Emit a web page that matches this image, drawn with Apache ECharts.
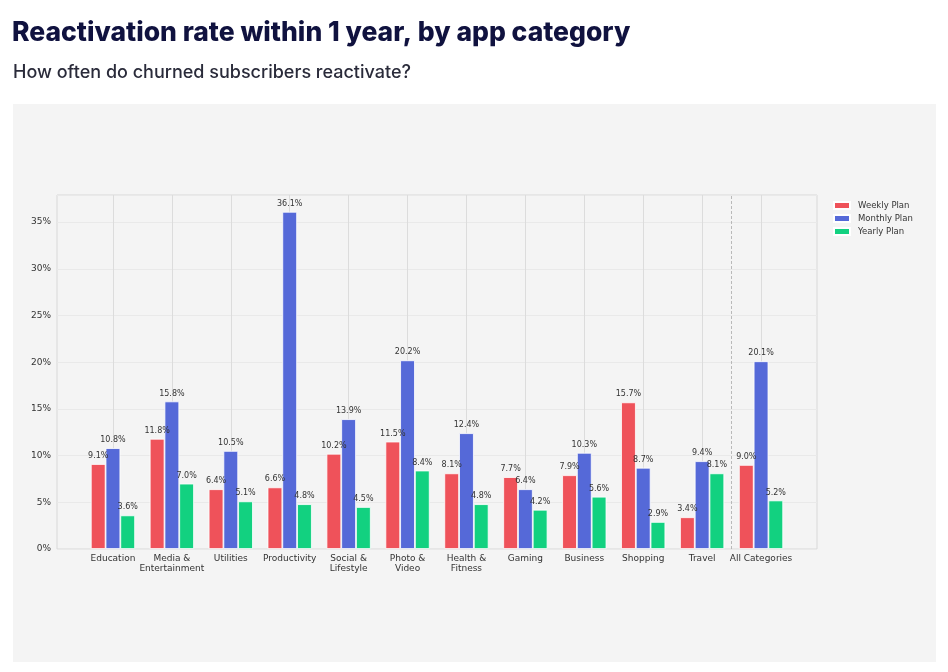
<!DOCTYPE html>
<html lang="en">
<head>
    <meta charset="UTF-8">
    <title>Reactivation rate</title>
    <script type="text/javascript" src="https://cdn.jsdelivr.net/npm/echarts@6/dist/echarts.min.js"></script>
    <style>
        html, body { margin: 0; padding: 0; background: #ffffff; }
        #main { width: 948px; height: 672px; }
    </style>
</head>
<body>
<div id="main"></div>
<script type="text/javascript">
    var categories = ['Education', 'Media &\nEntertainment', 'Utilities', 'Productivity', 'Social &\nLifestyle',
        'Photo &\nVideo', 'Health &\nFitness', 'Gaming', 'Business', 'Shopping', 'Travel', 'All Categories'];
    var weekly = [9.1, 11.8, 6.4, 6.6, 10.2, 11.5, 8.1, 7.7, 7.9, 15.7, 3.4, 9.0];
    var monthly = [10.8, 15.8, 10.5, 36.1, 13.9, 20.2, 12.4, 6.4, 10.3, 8.7, 9.4, 20.1];
    var yearly = [3.6, 7.0, 5.1, 4.8, 4.5, 8.4, 4.8, 4.2, 5.6, 2.9, 8.1, 5.2];
    var seriesNames = ['Weekly Plan', 'Monthly Plan', 'Yearly Plan'];
    var colors = ['#ef525a', '#5569d8', '#12d180'];
    var yMax = 37.9;

    var mychart = echarts.init(document.getElementById('main'));

    function barSeries(name, data, color) {
        return {
            name: name,
            type: 'bar',
            xAxisIndex: 1,
            yAxisIndex: 1,
            data: data,
            barWidth: 14.75,
            barGap: '0%',
            itemStyle: { color: color, borderColor: '#ffffff', borderWidth: 0.8 },
            label: {
                show: true,
                position: 'top',
                distance: 4,
                fontSize: 8,
                color: '#333333',
                fontFamily: 'DejaVu Sans',
                formatter: function (p) { return p.value.toFixed(1) + '%'; }
            }
        };
    }

    var option = {
        backgroundColor: '#ffffff',
        animation: false,
        title: [{
            text: 'Reactivation rate within 1 year, by app category',
            left: 12,
            top: 20,
            padding: 0,
            textStyle: { fontFamily: 'Inter', fontWeight: 800, fontSize: 26.5, color: '#10123f' }
        }, {
            text: 'How often do churned subscribers reactivate?',
            left: 13,
            top: 64,
            padding: 0,
            textStyle: { fontFamily: 'Inter', fontWeight: 500, fontSize: 18, color: '#2a2b3a' }
        }],
        graphic: [{
            type: 'rect',
            z: -10,
            shape: { x: 13, y: 104, width: 923, height: 558 },
            style: { fill: '#f4f4f4' }
        }],
        legend: {
            orient: 'vertical',
            left: 833,
            top: 201,
            padding: 0,
            itemWidth: 16,
            itemHeight: 7,
            itemGap: 4,
            icon: 'rect',
            data: seriesNames,
            textStyle: { fontSize: 8.5, color: '#333333', fontFamily: 'DejaVu Sans', padding: [0, 0, 0, 3] }
        },
        grid: [
            { left: 57, right: 131, top: 195, bottom: 123, show: true, borderColor: '#d8d8d8', borderWidth: 1, backgroundColor: 'transparent' },
            { left: 83.5, right: 157.5, top: 195, bottom: 123 },
            { left: 113, right: 187, top: 195, bottom: 123 }
        ],
        xAxis: [
            { gridIndex: 0, type: 'value', min: 0, max: 1, show: false },
            {
                gridIndex: 1, type: 'category', data: categories,
                axisLine: { show: false }, axisTick: { show: false }, splitLine: { show: false },
                axisLabel: { fontSize: 9, color: '#333333', fontFamily: 'DejaVu Sans', margin: 5, lineHeight: 10, interval: 0 }
            },
            {
                gridIndex: 2, type: 'value', min: 0, max: 11, interval: 1,
                axisLine: { show: false }, axisTick: { show: false }, axisLabel: { show: false },
                splitLine: { show: true, lineStyle: { color: '#dcdcdc', width: 1 } }
            }
        ],
        yAxis: [
            {
                gridIndex: 0, type: 'value', min: 0, max: yMax, interval: 5,
                axisLine: { show: false }, axisTick: { show: false },
                axisLabel: { fontSize: 9, color: '#333333', fontFamily: 'DejaVu Sans', margin: 6, formatter: '{value}%', showMaxLabel: false },
                splitLine: { show: true, lineStyle: { color: '#e9e9e9', width: 1 } }
            },
            { gridIndex: 1, type: 'value', min: 0, max: yMax, show: false },
            { gridIndex: 2, type: 'value', min: 0, max: 1, show: false }
        ],
        series: [
            barSeries(seriesNames[0], weekly, colors[0]),
            barSeries(seriesNames[1], monthly, colors[1]),
            barSeries(seriesNames[2], yearly, colors[2]),
            {
                type: 'line',
                xAxisIndex: 2,
                yAxisIndex: 2,
                data: [],
                silent: true,
                markLine: {
                    silent: true,
                    symbol: 'none',
                    label: { show: false },
                    lineStyle: { color: '#aaaaaa', type: [3, 2], width: 0.8 },
                    data: [{ xAxis: 10.5 }]
                }
            }
        ]
    };
    mychart.setOption(option);
</script>
</body>
</html>
